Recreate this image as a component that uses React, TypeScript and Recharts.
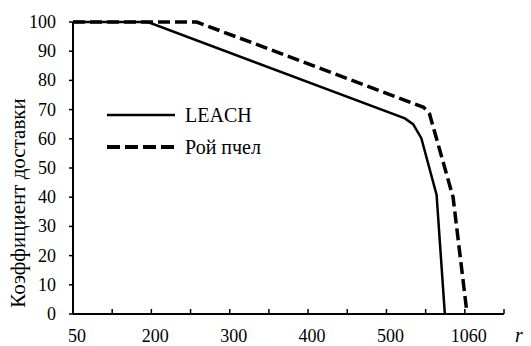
import React from 'react';
import { LineChart, Line, XAxis, YAxis, Legend } from 'recharts';

// axis positions (category slots) and their labels
const xTickPositions = [0, 1, 2, 3, 4, 5, 6, 7, 8, 9, 10, 11];
const xTickLabels = ['50', '', '200', '', '300', '', '400', '', '500', '', '1060', ''];
const yTicks = [0, 10, 20, 30, 40, 50, 60, 70, 80, 90, 100];

// LEACH series
const leachX = [0, 1.91, 8.47, 8.68, 8.89, 9.28, 9.49];
const leachY = [100, 100, 67, 65, 60.2, 40.8, 0];

// "Рой пчел" series
const beeX = [0, 3.16, 8.95, 9.1, 9.7, 10.04];
const beeY = [100, 100, 70.8, 68.5, 40, 2];

const seriesNames = ['LEACH', 'Рой пчел'];
const yAxisTitle = 'Коэффициент доставки';
const xAxisTitle = 'r';

const leachData = leachX.map((x, i) => ({ x, y: leachY[i] }));
const beeData = beeX.map((x, i) => ({ x, y: beeY[i] }));

const FONT = 'Liberation Serif';

const XTick = (props: any) => {
  const { x, y, payload } = props;
  const idx = xTickPositions.indexOf(payload.value);
  const label = idx >= 0 ? xTickLabels[idx] : '';
  return (
    <g>
      <line x1={x} x2={x} y1={y} y2={y - 5} stroke="#000" strokeWidth={1.5} />
      {label ? (
        <text x={x + 4} y={y + 22} textAnchor="middle" dominantBaseline="central" fontFamily={FONT} fontSize={18} fill="#000">
          {label}
        </text>
      ) : null}
    </g>
  );
};

const YTick = (props: any) => {
  const { x, y, payload } = props;
  return (
    <text x={x} y={y} textAnchor="end" dominantBaseline="central" fontFamily={FONT} fontSize={18} fill="#000">
      {payload.value}
    </text>
  );
};

const YTitle = (props: any) => {
  const vb = props.viewBox || {};
  const cx = 18;
  const cy = vb.y + vb.height / 2 + 35;
  return (
    <text x={cx} y={cy} transform={`rotate(-90 ${cx} ${cy})`} textAnchor="middle" dominantBaseline="central" fontFamily={FONT} fontSize={21} fill="#000">
      {yAxisTitle}
    </text>
  );
};

const XTitle = (props: any) => {
  const vb = props.viewBox || {};
  return (
    <text x={vb.x + vb.width + 15} y={vb.y + 21} textAnchor="middle" dominantBaseline="central" fontFamily={FONT} fontStyle="italic" fontSize={20} fill="#000">
      {xAxisTitle}
    </text>
  );
};

const LegendContent = () => (
  <div style={{ fontFamily: FONT, fontSize: 20, color: '#000' }}>
    <div style={{ display: 'flex', alignItems: 'center', height: 32 }}>
      <svg width={70} height={10} style={{ marginRight: 8 }}>
        <line x1={0} x2={68} y1={5} y2={5} stroke="#000" strokeWidth={2.5} />
      </svg>
      <span>{seriesNames[0]}</span>
    </div>
    <div style={{ display: 'flex', alignItems: 'center', height: 32 }}>
      <svg width={70} height={10} style={{ marginRight: 8 }}>
        <line x1={0} x2={68} y1={5} y2={5} stroke="#000" strokeWidth={4} strokeDasharray="13 5" />
      </svg>
      <span>{seriesNames[1]}</span>
    </div>
  </div>
);

export default function App() {
  return (
    <div style={{ position: 'absolute', left: 0, top: 0, width: 531, height: 346, background: '#fff' }}>
      <LineChart width={531} height={346} margin={{ top: 22, right: 27, left: 0, bottom: 0 }}>
        <XAxis
          type="number"
          dataKey="x"
          domain={[0, 11]}
          ticks={xTickPositions}
          interval={0}
          allowDataOverflow
          height={32}
          axisLine={{ stroke: '#000', strokeWidth: 2 }}
          tickLine={false}
          tickSize={0}
          tickMargin={0}
          tick={<XTick />}
          label={<XTitle />}
        />
        <YAxis
          type="number"
          dataKey="y"
          domain={[0, 100]}
          ticks={yTicks}
          interval={0}
          width={73}
          axisLine={{ stroke: '#000', strokeWidth: 2 }}
          tickLine={{ stroke: '#000', strokeWidth: 1.5 }}
          tickSize={4}
          tickMargin={13}
          tick={<YTick />}
          label={<YTitle />}
        />
        <Legend
          layout="vertical"
          align="center"
          verticalAlign="middle"
          content={<LegendContent />}
          wrapperStyle={{ position: 'absolute', left: 107, top: 99, width: 200 }}
        />
        <Line
          data={leachData}
          dataKey="y"
          name={seriesNames[0]}
          type="linear"
          stroke="#000"
          strokeWidth={2.5}
          dot={false}
          isAnimationActive={false}
        />
        <Line
          data={beeData}
          dataKey="y"
          name={seriesNames[1]}
          type="linear"
          stroke="#000"
          strokeWidth={3.5}
          strokeDasharray="12 5"
          dot={false}
          isAnimationActive={false}
        />
      </LineChart>
    </div>
  );
}
